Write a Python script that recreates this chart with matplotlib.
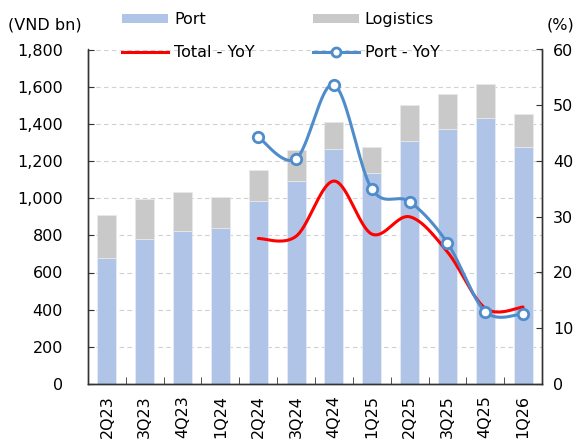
import numpy as np
import matplotlib
matplotlib.use("Agg")
import matplotlib.pyplot as plt
from matplotlib.lines import Line2D
from matplotlib.patches import Patch

categories = ["2Q23", "3Q23", "4Q23", "1Q24", "2Q24", "3Q24", "4Q24",
              "1Q25", "2Q25", "3Q25", "4Q25", "1Q26"]
port = [680, 778, 821, 839, 983, 1094, 1265, 1136, 1306, 1371, 1429, 1278]
total = [911, 997, 1031, 1004, 1154, 1261, 1412, 1276, 1499, 1558, 1616, 1454]
logistics = [t - p for t, p in zip(total, port)]
total_yoy = [None, None, None, None, 26.1, 26.5, 36.4, 26.9, 30.0, 23.7, 13.6, 13.8]
port_yoy = [None, None, None, None, 44.3, 40.4, 53.7, 35.0, 32.7, 25.3, 13.0, 12.6]

left_ticks = [0, 200, 400, 600, 800, 1000, 1200, 1400, 1600, 1800]
right_ticks = [0, 10, 20, 30, 40, 50, 60]

C_PORT = "#AFC4E6"
C_LOG = "#C9C9C9"
C_RED = "#FF0000"
C_BLUE = "#4E8CCB"

plt.rcParams['font.family'] = ['DejaVu Sans']
FS = 11.5


def smooth(xs, ys, n=40):
    """Excel-style smoothed line (Catmull-Rom Bezier) through given points."""
    xs = np.asarray(xs, float)
    ys = np.asarray(ys, float)
    px, py = [], []
    m = len(xs)
    for i in range(m - 1):
        x0, y0 = (xs[i - 1], ys[i - 1]) if i > 0 else (xs[i], ys[i])
        x1, y1 = xs[i], ys[i]
        x2, y2 = xs[i + 1], ys[i + 1]
        x3, y3 = (xs[i + 2], ys[i + 2]) if i + 2 < m else (xs[i + 1], ys[i + 1])
        c1x, c1y = x1 + (x2 - x0) / 6, y1 + (y2 - y0) / 6
        c2x, c2y = x2 - (x3 - x1) / 6, y2 - (y3 - y1) / 6
        t = np.linspace(0, 1, n)
        bx = (1 - t) ** 3 * x1 + 3 * (1 - t) ** 2 * t * c1x + 3 * (1 - t) * t ** 2 * c2x + t ** 3 * x2
        by = (1 - t) ** 3 * y1 + 3 * (1 - t) ** 2 * t * c1y + 3 * (1 - t) * t ** 2 * c2y + t ** 3 * y2
        px.extend(bx)
        py.extend(by)
    return np.array(px), np.array(py)


fig = plt.figure(figsize=(5.76, 4.40), dpi=100)
ax = fig.add_axes([88 / 576, 1 - 384 / 440, (542 - 88) / 576, (384 - 49.5) / 440])
ax2 = ax.twinx()

x = np.arange(len(categories))
ax.bar(x, port, width=0.5, color=C_PORT, edgecolor="#E6ECF6", linewidth=0.6, zorder=2)
ax.bar(x, logistics, bottom=port, width=0.5, color=C_LOG, edgecolor="#E8E8E8", linewidth=0.6, zorder=2)

ax.set_xlim(-0.5, len(categories) - 0.5)
ax.set_ylim(0, 1800)
ax.set_yticks(left_ticks)
ax.set_yticklabels([f"{v:,}" for v in left_ticks], fontsize=FS)
ax.yaxis.grid(True, linestyle=(0, (4, 3)), color="#D0D0D0", linewidth=0.8, zorder=0)
ax.set_axisbelow(True)
ax.set_xticks(x)
ax.set_xticklabels(categories, rotation=90, fontsize=FS)
ax.set_xticks(np.arange(-0.5, len(categories), 1.0), minor=True)
ax.tick_params(axis="x", which="major", length=0, pad=8)
ax.tick_params(axis="x", which="minor", direction="in", length=5, color="#333333")
ax.tick_params(axis="y", direction="in", length=4, color="#333333", pad=18)

ax2.set_ylim(0, 60)
ax2.set_yticks(right_ticks)
ax2.set_yticklabels([str(v) for v in right_ticks], fontsize=FS)
ax2.tick_params(axis="y", direction="in", length=4, color="#333333", pad=8)

for a in (ax, ax2):
    a.spines["top"].set_visible(False)
    for s in ("left", "right", "bottom"):
        a.spines[s].set_color("#333333")
        a.spines[s].set_linewidth(1.0)

# YoY lines
tx = [i for i, v in enumerate(total_yoy) if v is not None]
ty = [v for v in total_yoy if v is not None]
sx, sy = smooth(tx, ty)
ax2.plot(sx, sy, color=C_RED, linewidth=2.2, zorder=4, solid_capstyle="round")

bx_ = [i for i, v in enumerate(port_yoy) if v is not None]
by_ = [v for v in port_yoy if v is not None]
sx, sy = smooth(bx_, by_)
ax2.plot(sx, sy, color=C_BLUE, linewidth=2.2, zorder=5, solid_capstyle="round")
ax2.plot(bx_, by_, linestyle="none", marker="o", markersize=7.5, markerfacecolor="white",
         markeredgecolor=C_BLUE, markeredgewidth=2.0, zorder=6)

fig.text(8 / 576, 1 - 25 / 440, "(VND bn)", fontsize=FS, va="center", ha="left")
fig.text(574 / 576, 1 - 25 / 440, "(%)", fontsize=FS, va="center", ha="right")

h_port = Patch(facecolor=C_PORT, edgecolor="none")
h_log = Patch(facecolor=C_LOG, edgecolor="none")
h_tot = Line2D([], [], color=C_RED, linewidth=2.2)
h_pyoy = Line2D([], [], color=C_BLUE, linewidth=2.2, marker="o", markersize=6.5,
                markerfacecolor="white", markeredgecolor=C_BLUE, markeredgewidth=2)
# column-major ordering so rows read: Port | Logistics ; Total - YoY | Port - YoY
handles = [h_port, h_tot, h_log, h_pyoy]
labels = ["Port", "Total - YoY", "Logistics", "Port - YoY"]
leg = fig.legend(handles, labels, ncol=2, loc="upper left",
                 bbox_to_anchor=(122 / 576, 1 - 12 / 440), borderpad=0, borderaxespad=0,
                 frameon=False, fontsize=FS, handlelength=2.9, handleheight=0.5,
                 columnspacing=3.65, handletextpad=0.35, labelspacing=1.15)

fig.savefig("out.png", dpi=100)
